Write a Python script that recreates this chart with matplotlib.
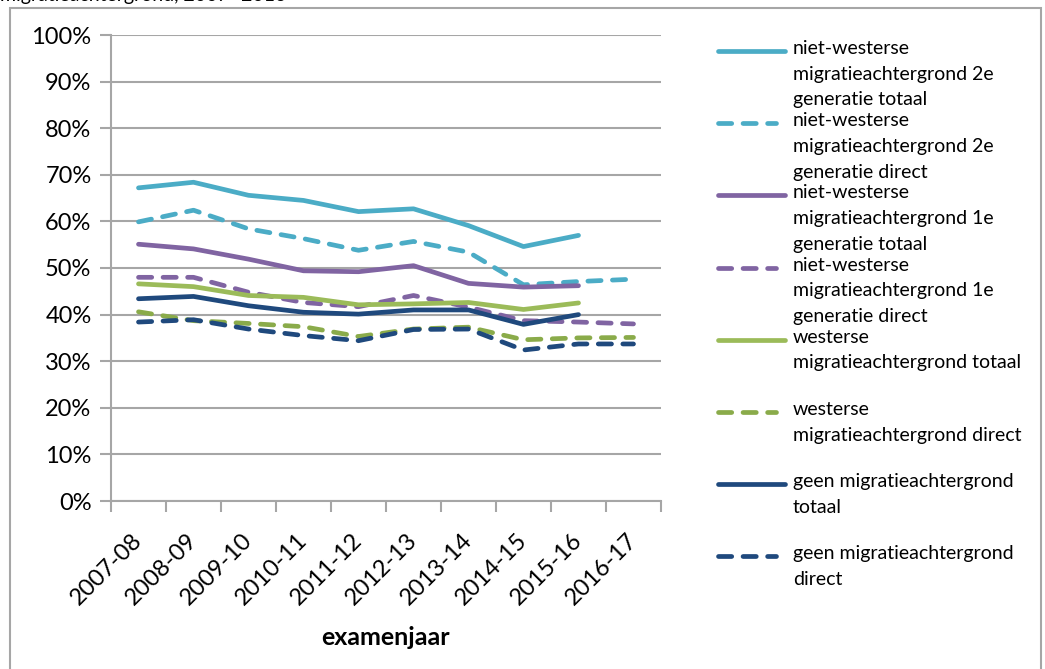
import matplotlib
matplotlib.use("Agg")
import matplotlib.pyplot as plt
from matplotlib.patches import Rectangle

plt.rcParams['font.family'] = ['Lato', 'DejaVu Sans']

jaren = ['2007-08', '2008-09', '2009-10', '2010-11', '2011-12',
         '2012-13', '2013-14', '2014-15', '2015-16', '2016-17']

# percentages per examenjaar (None = geen waarde)
nw2_totaal = [67.2, 68.4, 65.6, 64.5, 62.1, 62.7, 59.1, 54.6, 57.0, None]
nw2_direct = [59.9, 62.4, 58.4, 56.3, 53.8, 55.7, 53.4, 46.4, 47.1, 47.6]
nw1_totaal = [55.1, 54.1, 51.9, 49.4, 49.2, 50.5, 46.7, 45.9, 46.2, None]
nw1_direct = [48.0, 48.0, 44.8, 42.6, 41.7, 44.1, 41.6, 38.7, 38.4, 38.0]
w_totaal = [46.6, 46.0, 44.1, 43.7, 42.1, 42.3, 42.6, 41.1, 42.5, None]
w_direct = [40.6, 38.7, 38.1, 37.4, 35.3, 36.9, 37.3, 34.6, 35.0, 35.1]
geen_totaal = [43.4, 43.9, 41.9, 40.5, 40.1, 41.0, 41.0, 37.9, 40.0, None]
geen_direct = [38.4, 38.9, 36.9, 35.5, 34.4, 36.8, 36.9, 32.4, 33.7, 33.7]

series = [
    (nw2_totaal, 'niet-westerse\nmigratieachtergrond 2e\ngeneratie totaal', '#4BACC6', '-'),
    (nw2_direct, 'niet-westerse\nmigratieachtergrond 2e\ngeneratie direct', '#4BACC6', '--'),
    (nw1_totaal, 'niet-westerse\nmigratieachtergrond 1e\ngeneratie totaal', '#8064A2', '-'),
    (nw1_direct, 'niet-westerse\nmigratieachtergrond 1e\ngeneratie direct', '#8064A2', '--'),
    (w_totaal, 'westerse\nmigratieachtergrond totaal', '#9BBB59', '-'),
    (w_direct, 'westerse\nmigratieachtergrond direct', '#8AAB4A', '--'),
    (geen_totaal, 'geen migratieachtergrond\ntotaal', '#1F497D', '-'),
    (geen_direct, 'geen migratieachtergrond\ndirect', '#1F497D', '--'),
]

W, H = 1045, 669
fig = plt.figure(figsize=(W / 100, H / 100), dpi=100)

# kader om de grafiek (onderkant valt buiten beeld)
fig.add_artist(Rectangle((10 / W, -0.1), 1031 / W, 1.1 - 8 / H, transform=fig.transFigure,
                         fill=False, edgecolor='#A6A6A6', linewidth=1.5))
fig.text(0.0, 1 - 1 / H, 'migratieachtergrond, 2007- 2016', fontsize=14, va='baseline', ha='left')

ax = fig.add_axes([111 / W, (H - 501) / H, 550 / W, 466 / H])
x = list(range(len(jaren)))
lw = 3.4
for vals, label, color, ls in series:
    xs = [i for i, v in zip(x, vals) if v is not None]
    ys = [v for v in vals if v is not None]
    line, = ax.plot(xs, ys, color=color, linewidth=lw, solid_capstyle='round',
                    dash_capstyle='round', solid_joinstyle='round', label=label)
    if ls == '--':
        line.set_dashes((2.8, 2.4))

ax.set_xlim(-0.5, len(jaren) - 0.5)
ax.set_ylim(0, 100)
ax.set_yticks(range(0, 101, 10))
ax.set_yticklabels([f'{v}%' for v in range(0, 101, 10)], fontsize=17)
ax.yaxis.grid(True, color='#A6A6A6', linewidth=1.5)
ax.set_axisbelow(True)

ax.set_xticks([i - 0.5 for i in range(len(jaren) + 1)])
ax.set_xticklabels([])
ax.set_xticks(x, minor=True)
ax.set_xticklabels(jaren, minor=True, rotation=45, ha='right', va='center',
                   rotation_mode='anchor', fontsize=17)
ax.tick_params(axis='x', which='minor', length=0, pad=26)
ax.tick_params(axis='both', which='major', length=8, width=1.5, color='#A6A6A6')
ax.tick_params(axis='y', pad=6)
ax.set_xlabel('examenjaar', fontsize=18, fontweight='bold', labelpad=12)

for s in ['top', 'right']:
    ax.spines[s].set_visible(False)
for s in ['left', 'bottom']:
    ax.spines[s].set_color('#A6A6A6')
    ax.spines[s].set_linewidth(1.5)

# legenda: lijnstuk bij de eerste tekstregel, zoals in Excel
lax = fig.add_axes([0, 0, 1, 1])
lax.set_xlim(0, W)
lax.set_ylim(H, 0)
lax.axis('off')
for k, (vals, label, color, ls) in enumerate(series):
    yk = 51 + 72.2 * k
    seg, = lax.plot([718, 785 if ls == '-' else 776], [yk, yk], color=color, linewidth=lw,
                    solid_capstyle='round', dash_capstyle='round')
    if ls == '--':
        seg.set_dashes((2.8, 2.4))
    lax.text(793, yk - 11, label, fontsize=14, va='top', ha='left', linespacing=1.62)

fig.savefig('out.png', dpi=100)
